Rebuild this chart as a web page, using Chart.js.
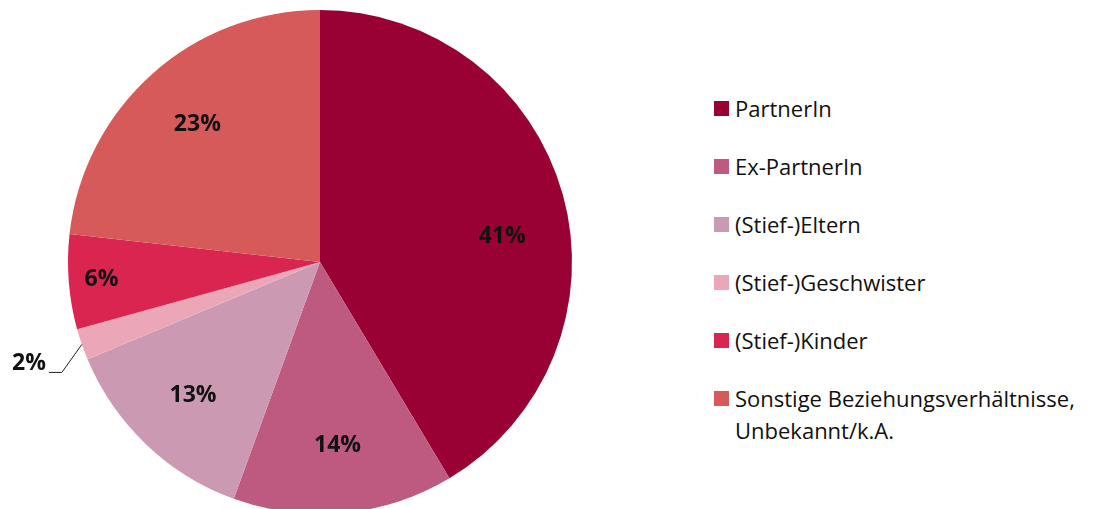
<!DOCTYPE html>
<html lang="de">
<head>
    <meta charset="UTF-8">
    <title>Beziehung</title>
    <script src="https://cdn.jsdelivr.net/npm/chart.js"></script>
    <style>
        html, body { margin: 0; padding: 0; background: #fff; overflow: hidden; }
        body { width: 1105px; height: 509px; position: relative; font-family: "Open Sans", Lato, sans-serif; }
        #wrap { position: absolute; left: 0; top: 0; width: 640px; height: 514px; }
        #legend { position: absolute; left: 714px; top: 92px; }
        .item { display: flex; align-items: flex-start; height: 58px; font-size: 22px; color: #111; line-height: 32px; }
        .box { width: 15px; height: 15px; margin: 9px 6px 0 0; flex: none; }
    </style>
</head>
<body>
    <div id="wrap"><canvas id="pie"></canvas></div>
    <div id="legend"></div>

    <script>
        const categories = ["PartnerIn", "Ex-PartnerIn", "(Stief-)Eltern", "(Stief-)Geschwister", "(Stief-)Kinder", "Sonstige Beziehungsverhältnisse,\nUnbekannt/k.A."];
        const values = [41, 14, 13, 2, 6, 23];
        const colors = ["#990033", "#be5a80", "#cc99b3", "#eba7b7", "#d9254f", "#d65a5a"];

        // legend
        let legend = document.getElementById("legend");
        categories.forEach((c, i) => {
            let row = document.createElement("div");
            row.className = "item";
            let box = document.createElement("div");
            box.className = "box";
            box.style.background = colors[i];
            let txt = document.createElement("div");
            txt.innerHTML = c.replace("\n", "<br>");
            row.appendChild(box);
            row.appendChild(txt);
            legend.appendChild(row);
        });

        const labelPlugin = {
            id: "pieLabels",
            afterDatasetsDraw(chart) {
                let ctx = chart.ctx;
                let arcs = chart.getDatasetMeta(0).data;
                ctx.save();
                ctx.font = "bold 23px 'Open Sans', Lato, sans-serif";
                ctx.fillStyle = "#111";
                ctx.textBaseline = "middle";
                arcs.forEach((arc, i) => {
                    let p = arc.getProps(["x", "y", "startAngle", "endAngle", "outerRadius"], true);
                    let mid = (p.startAngle + p.endAngle) / 2;
                    let text = values[i] + "%";
                    if (values[i] < 4) {
                        // small slice: label outside with leader line
                        let ex = p.x + Math.cos(mid) * p.outerRadius;
                        let ey = p.y + Math.sin(mid) * p.outerRadius;
                        let kx = ex - 20, ky = ey + 28;
                        ctx.strokeStyle = "#222";
                        ctx.lineWidth = 1;
                        ctx.beginPath();
                        ctx.moveTo(ex, ey);
                        ctx.lineTo(kx, ky);
                        ctx.lineTo(kx - 13, ky);
                        ctx.stroke();
                        ctx.textAlign = "right";
                        ctx.fillText(text, kx - 16, ky - 9);
                    } else {
                        // the big slice's label sits a bit lower, like the original
                        if (values[i] > 30) mid += 0.13;
                        let r = p.outerRadius * (values[i] < 8 ? 0.87 : 0.73);
                        ctx.textAlign = "center";
                        ctx.fillText(text, p.x + Math.cos(mid) * r, p.y + Math.sin(mid) * r);
                    }
                });
                ctx.restore();
            }
        };

        new Chart(document.getElementById("pie"), {
            type: "pie",
            data: {
                labels: categories,
                datasets: [{
                    data: values,
                    backgroundColor: colors,
                    borderWidth: 0
                }]
            },
            options: {
                responsive: true,
                maintainAspectRatio: false,
                animation: false,
                layout: { padding: { top: 10 } },
                plugins: {
                    legend: { display: false },
                    tooltip: { enabled: false }
                }
            },
            plugins: [labelPlugin]
        });
    </script>
</body>
</html>
